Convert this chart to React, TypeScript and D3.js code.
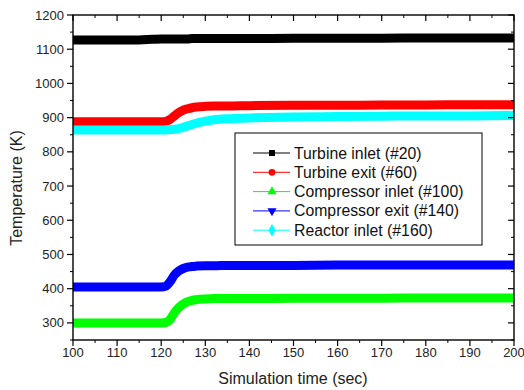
import * as d3 from 'd3';

const times = [100, 105, 110, 115, 118, 120, 121, 122, 123, 124, 125, 126, 127, 128, 130, 132, 135, 140, 150, 160, 170, 180, 190, 200];
const turbineInlet = [1127, 1127, 1127, 1127, 1129, 1130, 1130, 1130, 1130, 1130, 1130, 1130, 1131, 1131, 1131, 1131, 1131, 1131, 1132, 1132, 1132, 1133, 1133, 1133];
const turbineExit = [888, 888, 888, 888, 888, 888, 889, 895, 905, 915, 922, 926, 929, 931, 933, 934, 934, 935, 936, 936, 937, 937, 938, 938];
const compressorInlet = [300, 300, 300, 300, 300, 300, 301, 310, 330, 345, 355, 362, 366, 368, 370, 371, 371, 371, 372, 372, 372, 373, 373, 373];
const compressorExit = [405, 405, 405, 405, 405, 405, 407, 420, 440, 452, 459, 463, 465, 466, 467, 467, 468, 468, 468, 469, 469, 469, 469, 469];
const reactorInlet = [864, 864, 864, 864, 864, 864, 864, 865, 866, 868, 872, 876, 880, 884, 890, 894, 897, 899, 902, 903, 904, 905, 905, 906];

const xTicks = [100, 110, 120, 130, 140, 150, 160, 170, 180, 190, 200];
const yTicks = [300, 400, 500, 600, 700, 800, 900, 1000, 1100, 1200];

const series = [
  { name: 'Turbine inlet (#20)', color: '#000000', values: turbineInlet, marker: 'square' },
  { name: 'Turbine exit (#60)', color: '#ff0000', values: turbineExit, marker: 'circle' },
  { name: 'Compressor inlet (#100)', color: '#00ff00', values: compressorInlet, marker: 'triangle' },
  { name: 'Compressor exit (#140)', color: '#0000ff', values: compressorExit, marker: 'triangleDown' },
  { name: 'Reactor inlet (#160)', color: '#00ffff', values: reactorInlet, marker: 'diamond' },
];

const W = 524;
const H = 390;
const left = 73;
const right = 514;
const top = 15;
const bottom = 340;

const font = '"Liberation Sans", Arial, sans-serif';

function markerPath(kind: string) {
  const sym = {
    square: d3.symbolSquare,
    circle: d3.symbolCircle,
    triangle: d3.symbolTriangle,
    triangleDown: d3.symbolTriangle,
    diamond: d3.symbolDiamond,
  }[kind] || d3.symbolSquare;
  return d3.symbol().type(sym).size(kind === 'diamond' ? 45 : 36)();
}

export default function App() {
  const x = d3.scaleLinear().domain([100, 200]).range([left, right]);
  const y = d3.scaleLinear().domain([250, 1200]).range([bottom, top]);

  const xMinor = d3.range(105, 200, 10);
  const yMinor = d3.range(250, 1201, 50).filter(v => v % 100 !== 0);

  const line = d3.line<number>()
    .x((_, i) => x(times[i]))
    .y(d => y(d))
    .curve(d3.curveMonotoneX);

  const legX = 235;
  const legY = 133;

  return (
    <svg width={W} height={H} style={{ position: 'absolute', left: 0, top: 0, background: '#fff' }}>
      <defs>
        <clipPath id="plot">
          <rect x={left} y={top} width={right - left} height={bottom - top} />
        </clipPath>
      </defs>
      <g clipPath="url(#plot)">
        {series.map(s => (
          <path key={s.name} d={line(s.values) || ''} fill="none" stroke={s.color} strokeWidth={9} />
        ))}
      </g>

      {/* frame */}
      <rect x={left} y={top} width={right - left} height={bottom - top} fill="none" stroke="#000" strokeWidth={1.4} />

      {/* bottom ticks point out, top ticks point in */}
      {xTicks.map(t => (
        <g key={'xt' + t}>
          <line x1={x(t)} x2={x(t)} y1={bottom} y2={bottom + 6} stroke="#000" strokeWidth={1.2} />
          <line x1={x(t)} x2={x(t)} y1={top} y2={top + 6} stroke="#000" strokeWidth={1.2} />
          <text x={x(t)} y={357} textAnchor="middle" fontFamily={font} fontSize={13} fill="#222">{t}</text>
        </g>
      ))}
      {xMinor.map(t => (
        <g key={'xm' + t}>
          <line x1={x(t)} x2={x(t)} y1={bottom} y2={bottom + 3} stroke="#000" strokeWidth={1} />
          <line x1={x(t)} x2={x(t)} y1={top} y2={top + 3} stroke="#000" strokeWidth={1} />
        </g>
      ))}

      {/* left ticks point out, right ticks point in */}
      {yTicks.map(t => (
        <g key={'yt' + t}>
          <line x1={left - 6} x2={left} y1={y(t)} y2={y(t)} stroke="#000" strokeWidth={1.2} />
          <line x1={right - 6} x2={right} y1={y(t)} y2={y(t)} stroke="#000" strokeWidth={1.2} />
          <text x={left - 9} y={y(t) + 4.5} textAnchor="end" fontFamily={font} fontSize={13} fill="#222">{t}</text>
        </g>
      ))}
      {yMinor.map(t => (
        <g key={'ym' + t}>
          <line x1={left - 3} x2={left} y1={y(t)} y2={y(t)} stroke="#000" strokeWidth={1} />
          <line x1={right - 3} x2={right} y1={y(t)} y2={y(t)} stroke="#000" strokeWidth={1} />
        </g>
      ))}

      {/* axis titles */}
      <text x={293} y={384} textAnchor="middle" fontFamily={font} fontSize={16} fill="#222">Simulation time (sec)</text>
      <text transform="translate(21.5, 188) rotate(-90)" textAnchor="middle" fontFamily={font} fontSize={16} fill="#222">Temperature (K)</text>

      {/* legend */}
      <rect x={legX} y={legY} width={247} height={112} fill="#fff" stroke="#000" strokeWidth={1} />
      {series.map((s, i) => {
        const ry = legY + 20 + i * 19.3;
        return (
          <g key={'leg' + s.name}>
            <line x1={legX + 18} x2={legX + 55} y1={ry} y2={ry} stroke={s.color} strokeWidth={1} />
            <path d={markerPath(s.marker)} transform={`translate(${legX + 37}, ${ry})${s.marker === 'triangleDown' ? ' rotate(180)' : ''}`} fill={s.color} />
            <text x={legX + 59} y={ry + 5.5} fontFamily={font} fontSize={15.8} fill="#111">{s.name}</text>
          </g>
        );
      })}
    </svg>
  );
}
